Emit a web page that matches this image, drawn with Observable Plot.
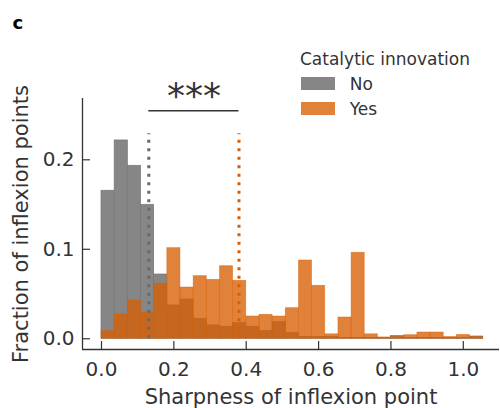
<!DOCTYPE html>
<html><head><meta charset="utf-8">
<script src="https://cdn.jsdelivr.net/npm/d3@7"></script>
<script src="https://cdn.jsdelivr.net/npm/@observablehq/plot@0.6"></script>
<style>
body{margin:0;background:#fff;}
#wrap{position:relative;width:500px;height:408px;font-family:"DejaVu Sans",sans-serif;}
#legend{position:absolute;left:300px;top:46.6px;font-size:17px;line-height:25px;color:#333;white-space:nowrap;}
.sw{display:inline-block;width:34px;height:12.7px;margin-left:0.7px;margin-right:15px;vertical-align:baseline;}
</style></head><body>
<div id="wrap"><div id="chart"></div><div id="legend"></div></div>
<script>
// ---- data ----
const categories = ["No", "Yes"];
const legendTitle = "Catalytic innovation";
const binWidth = 0.03638;          // histogram bin width (29 bins from 0)
const noValues = [0.1654, 0.2216, 0.1933, 0.1497, 0.0718, 0.0372, 0.0439, 0.0223, 0.0149, 0.0134,
                  0.0174, 0.0134, 0.0085, 0.0186, 0.0063, 0.002, 0.002, 0.002, 0.001, 0.001,
                  0.001, 0.001, 0.003, 0.001, 0.001, 0.001, 0.001, 0.001, 0.0025];
const yesValues = [0.0085, 0.0272, 0.0428, 0.0294, 0.0614, 0.1013, 0.0573, 0.070, 0.0659, 0.0811,
                   0.0648, 0.0249, 0.0268, 0.0249, 0.0342, 0.0875, 0.0592, 0.005, 0.0238, 0.0961,
                   0.005, 0.0015, 0.002, 0.004, 0.007, 0.007, 0.002, 0.0043, 0.002];
const medians = [0.1307, 0.380];   // dotted vertical lines (No, Yes)
const medianTop = 0.229;
const sigLevel = 0.2548;
const sigLabel = "***";
const xTicks = [0, 0.2, 0.4, 0.6, 0.8, 1.0];
const yTicks = [0, 0.1, 0.2];
const xDomain = [-0.0525, 1.1];
const yDomain = [-0.012, 0.2685];
const xLabel = "Sharpness of inflexion point";
const yLabel = "Fraction of inflexion points";
const panelLabel = "c";

// ---- styles ----
const fills = ["#868686", "#d95f02"];
const lineColors = ["#6a6a6a", "#d95f02"];
const ink = "#333";

const bins = noValues.map((v, i) => ({x1: i * binWidth, x2: (i + 1) * binWidth, no: v, yes: yesValues[i]}));

const chart = Plot.plot({
  width: 500, height: 408,
  marginLeft: 82, marginRight: 1, marginTop: 98, marginBottom: 59,
  style: {fontFamily: "DejaVu Sans", fontSize: "20px", color: ink, background: "white", overflow: "visible"},
  x: {domain: xDomain},
  y: {domain: yDomain},
  marks: [
    Plot.rectY(bins, {x1: "x1", x2: "x2", y: "no", fill: fills[0], stroke: "#767676", strokeWidth: 0.7}),
    Plot.rectY(bins, {x1: "x1", x2: "x2", y: "yes", fill: fills[1], fillOpacity: 0.78, stroke: fills[1], strokeOpacity: 0.55, strokeWidth: 0.7}),
    Plot.ruleX([medians[0]], {y1: 0, y2: medianTop, stroke: lineColors[0], strokeWidth: 3, strokeDasharray: "3,5.5"}),
    Plot.ruleX([medians[1]], {y1: 0, y2: medianTop, stroke: lineColors[1], strokeWidth: 3, strokeDasharray: "3,5.5"}),
    Plot.ruleY([sigLevel], {x1: medians[0], x2: medians[1], stroke: ink, strokeWidth: 1.5}),
    Plot.text([sigLabel], {x: (medians[0] + medians[1]) / 2, y: sigLevel, dy: -14, fontSize: 36, fill: ink, lineAnchor: "middle"}),
    Plot.ruleX([xDomain[0]], {stroke: ink, strokeWidth: 1.3}),
    Plot.ruleY([yDomain[0]], {stroke: ink, strokeWidth: 1.3}),
    Plot.axisX({ticks: xTicks, tickSize: -8, tickPadding: 20, tickFormat: d3.format(".1f"), label: null, stroke: ink, strokeWidth: 1.2}),
    Plot.axisY({ticks: yTicks, tickSize: -8, tickPadding: 16, tickFormat: d3.format(".1f"), label: null, stroke: ink, strokeWidth: 1.2}),
    Plot.text([xLabel], {frameAnchor: "bottom", dy: 47.3, fontSize: 21, textAnchor: "middle", lineAnchor: "middle", fill: ink}),
    Plot.text([yLabel], {frameAnchor: "left", dx: -61.2, rotate: -90, fontSize: 21, textAnchor: "middle", lineAnchor: "middle", fill: ink}),
    Plot.text([panelLabel], {frameAnchor: "top-left", dx: -70, dy: -75.5, fontSize: 18, fontWeight: "bold", textAnchor: "start", lineAnchor: "middle", fill: "#000"})
  ]
});
document.getElementById("chart").appendChild(chart);

// ---- legend (HTML overlay) ----
const legend = document.getElementById("legend");
const t = document.createElement("div");
t.textContent = legendTitle;
legend.appendChild(t);
categories.forEach((c, i) => {
  const row = document.createElement("div");
  const sw = document.createElement("span");
  sw.className = "sw";
  const col = d3.color(fills[i]);
  if (i === 1) col.opacity = 0.78;
  sw.style.background = col.formatRgb();
  row.appendChild(sw);
  row.appendChild(document.createTextNode(c));
  legend.appendChild(row);
});
</script>
</body></html>
